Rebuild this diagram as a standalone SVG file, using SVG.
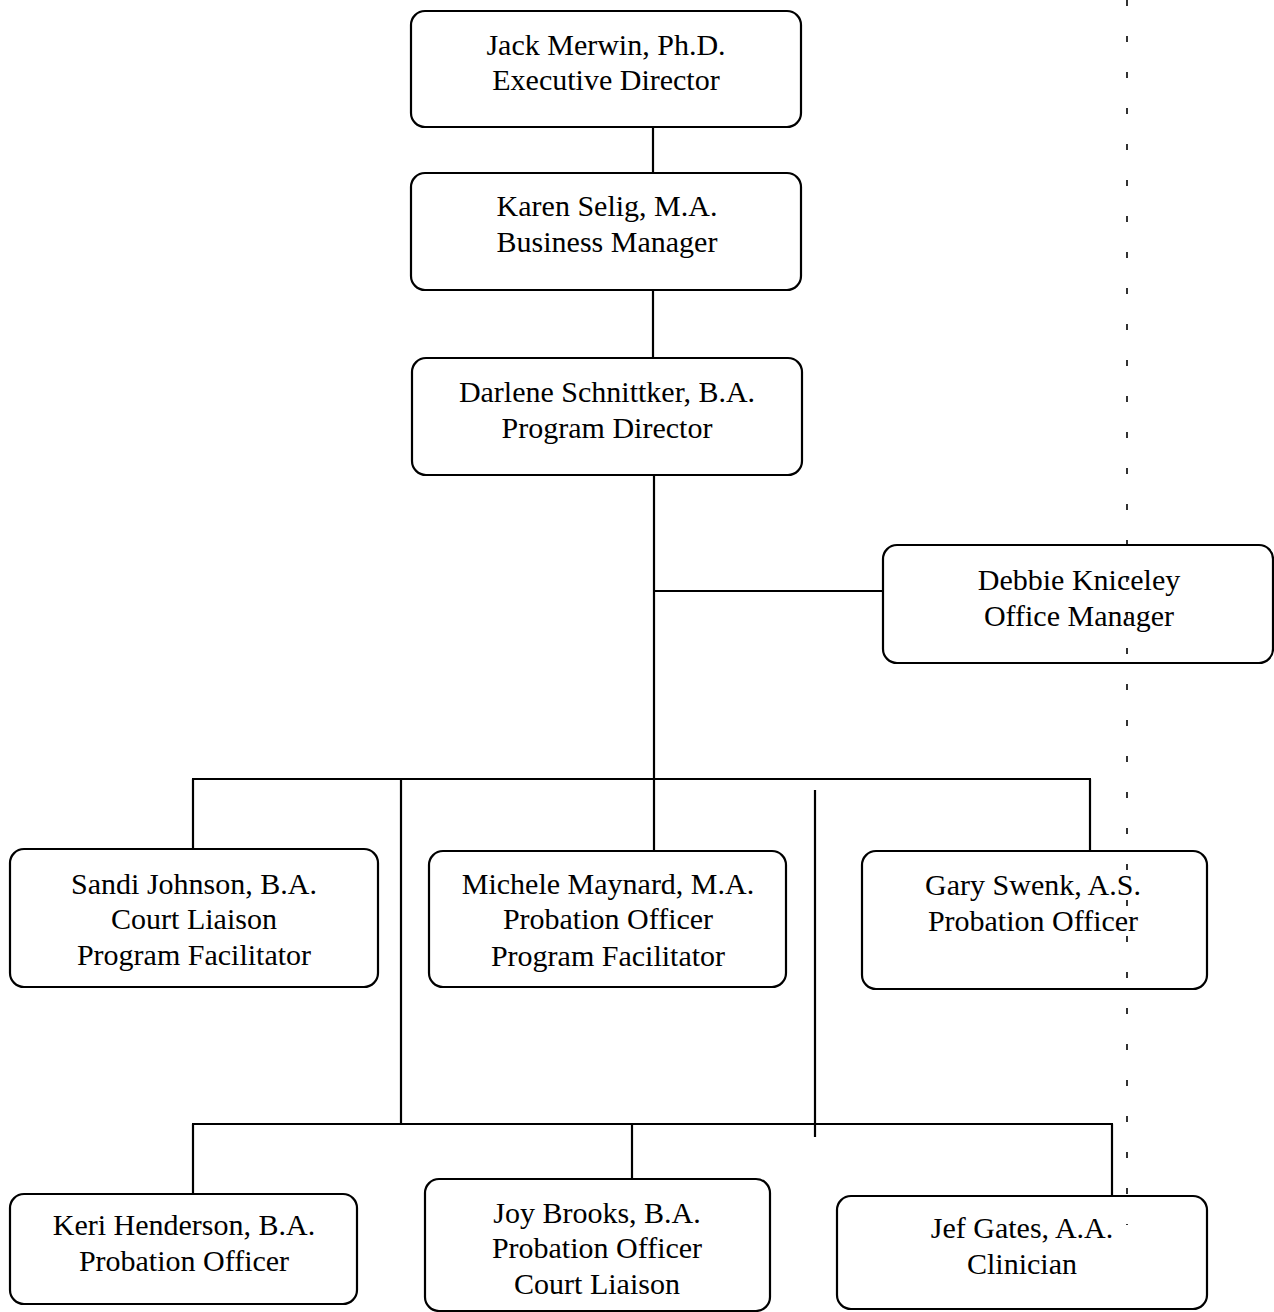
<svg xmlns="http://www.w3.org/2000/svg" width="1274" height="1312" viewBox="0 0 1274 1312">
<style>
.box{fill:#fff;stroke:#000;stroke-width:2.2}
.t{font-family:"Liberation Serif","Times New Roman",serif;font-size:30px;fill:#000;text-anchor:middle}
.c{stroke:#000;stroke-width:2.2;fill:none}
.scan{stroke:#000;stroke-width:1.6;stroke-dasharray:6 30;fill:none}
</style>
<rect width="1274" height="1312" fill="#fff"/>
<g id="connectors">
<line class="c" x1="653" y1="127" x2="653" y2="173"/>
<line class="c" x1="653" y1="290" x2="653" y2="358"/>
<line class="c" x1="654" y1="475" x2="654" y2="851"/>
<line class="c" x1="654" y1="591" x2="883" y2="591"/>
<line class="c" x1="192" y1="779" x2="1091" y2="779"/>
<line class="c" x1="193" y1="779" x2="193" y2="849"/>
<line class="c" x1="1090" y1="779" x2="1090" y2="851"/>
<line class="c" x1="401" y1="779" x2="401" y2="1124"/>
<line class="c" x1="815" y1="790" x2="815" y2="1137"/>
<line class="c" x1="192" y1="1124" x2="1113" y2="1124"/>
<line class="c" x1="193" y1="1124" x2="193" y2="1194"/>
<line class="c" x1="632" y1="1124" x2="632" y2="1179"/>
<line class="c" x1="1112" y1="1124" x2="1112" y2="1196"/>
</g>
<g id="n-jack"><rect class="box" x="411" y="11" width="390" height="116" rx="14"/>
<text class="t" x="606" y="55">Jack Merwin, Ph.D.</text><text class="t" x="606" y="90">Executive Director</text></g>
<g id="n-karen"><rect class="box" x="411" y="173" width="390" height="117" rx="14"/>
<text class="t" x="607" y="216">Karen Selig, M.A.</text><text class="t" x="607" y="252">Business Manager</text></g>
<g id="n-darlene"><rect class="box" x="412" y="358" width="390" height="117" rx="14"/>
<text class="t" x="607" y="402">Darlene Schnittker, B.A.</text><text class="t" x="607" y="438">Program Director</text></g>
<g id="n-debbie"><rect class="box" x="883" y="545" width="390" height="118" rx="14"/>
<text class="t" x="1079" y="590">Debbie Kniceley</text><text class="t" x="1079" y="626">Office Manager</text></g>
<g id="n-sandi"><rect class="box" x="10" y="849" width="368" height="138" rx="14"/>
<text class="t" x="194" y="894">Sandi Johnson, B.A.</text><text class="t" x="194" y="929">Court Liaison</text><text class="t" x="194" y="965">Program Facilitator</text></g>
<g id="n-michele"><rect class="box" x="429" y="851" width="357" height="136" rx="14"/>
<text class="t" x="608" y="894">Michele Maynard, M.A.</text><text class="t" x="608" y="929">Probation Officer</text><text class="t" x="608" y="966">Program Facilitator</text></g>
<g id="n-gary"><rect class="box" x="862" y="851" width="345" height="138" rx="14"/>
<text class="t" x="1033" y="895">Gary Swenk, A.S.</text><text class="t" x="1033" y="931">Probation Officer</text></g>
<g id="n-keri"><rect class="box" x="10" y="1194" width="347" height="110" rx="14"/>
<text class="t" x="184" y="1235">Keri Henderson, B.A.</text><text class="t" x="184" y="1271">Probation Officer</text></g>
<g id="n-joy"><rect class="box" x="425" y="1179" width="345" height="132" rx="14"/>
<text class="t" x="597" y="1223">Joy Brooks, B.A.</text><text class="t" x="597" y="1258">Probation Officer</text><text class="t" x="597" y="1294">Court Liaison</text></g>
<g id="n-jef"><rect class="box" x="837" y="1196" width="370" height="113" rx="14"/>
<text class="t" x="1022" y="1238">Jef Gates, A.A.</text><text class="t" x="1022" y="1274">Clinician</text></g>
<g id="scan-mark"><line class="scan" x1="1127" y1="0" x2="1127" y2="1225"/></g>
</svg>
